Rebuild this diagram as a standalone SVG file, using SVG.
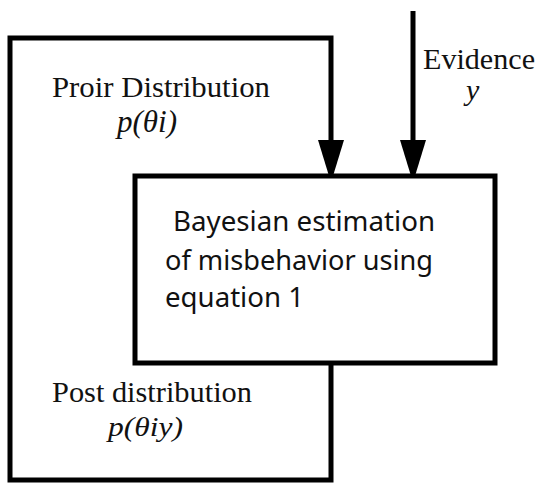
<svg xmlns="http://www.w3.org/2000/svg" width="541" height="483" viewBox="0 0 541 483">
<style>
.ln{fill:none;stroke:#000;stroke-width:5;}
.serif{font-family:"Liberation Serif","Times New Roman",serif;fill:#111;}
.it{font-style:italic;}
.sans{font-family:"Noto Sans","Open Sans","Liberation Sans",sans-serif;fill:#111;font-size:27px;}
</style>
<defs>
<marker id="ah" viewBox="0 0 36 26" markerWidth="36" markerHeight="26" refX="0" refY="13" orient="auto" markerUnits="userSpaceOnUse">
<path d="M0,0 L36,11 L36,15 L0,26 Z" fill="#000"/>
</marker>
</defs>
<g id="connectors">
<path class="ln" d="M331,363 V480 H10 V38 H331 V140" marker-end="url(#ah)"/>
<path class="ln" d="M413,11 V140" marker-end="url(#ah)"/>
</g>
<g id="estimation">
<rect class="ln" x="135" y="176" width="360" height="187"/>
<text class="sans" x="173" y="231" textLength="262" lengthAdjust="spacingAndGlyphs">Bayesian estimation</text>
<text class="sans" x="165" y="270" textLength="268" lengthAdjust="spacingAndGlyphs">of misbehavior using</text>
<text class="sans" x="165" y="307" textLength="139" lengthAdjust="spacingAndGlyphs">equation 1</text>
</g>
<g id="prior">
<text class="serif" x="52" y="97" font-size="30" textLength="218" lengthAdjust="spacingAndGlyphs">Proir Distribution</text>
<text class="serif it" x="117" y="132" font-size="31">p(θi)</text>
</g>
<g id="evidence">
<text class="serif" x="423" y="69" font-size="30" textLength="112" lengthAdjust="spacingAndGlyphs">Evidence</text>
<text class="serif it" x="466" y="100" font-size="30">y</text>
</g>
<g id="posterior">
<text class="serif" x="52" y="402" font-size="30" textLength="200" lengthAdjust="spacingAndGlyphs">Post distribution</text>
<text class="serif it" x="108" y="436" font-size="28" textLength="75" lengthAdjust="spacingAndGlyphs">p(θiy)</text>
</g>
</svg>
